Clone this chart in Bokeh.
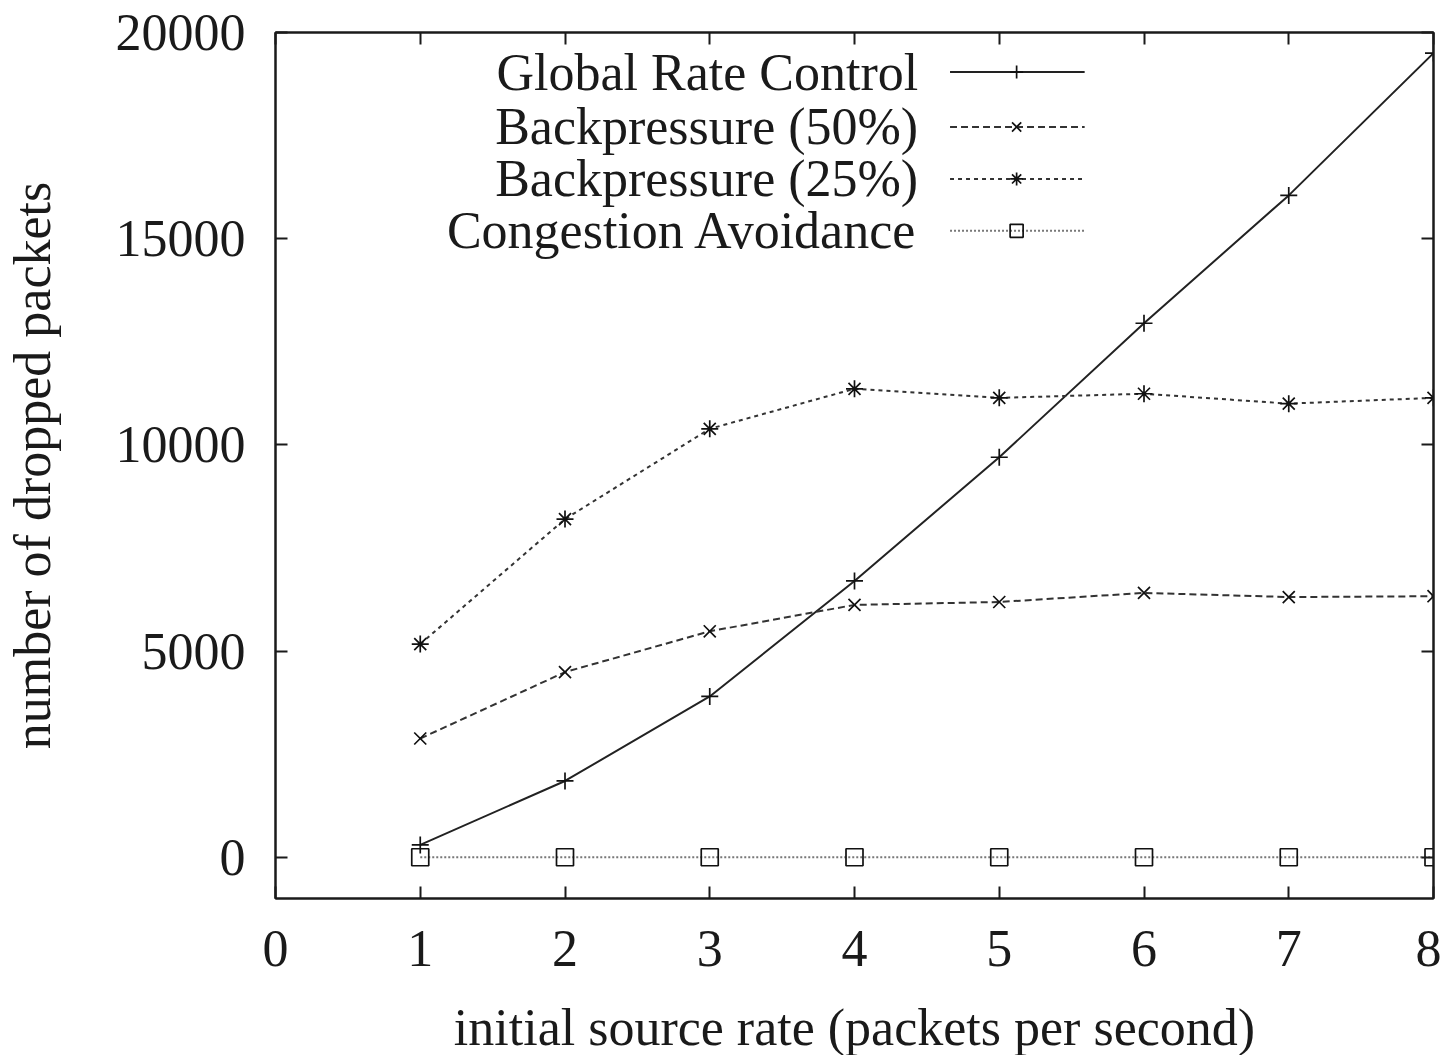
from bokeh.plotting import figure
from bokeh.models import Range1d, FixedTicker, LinearAxis, Label
from bokeh.embed import file_html
from bokeh.resources import INLINE

# ---- data ----
rates = [1, 2, 3, 4, 5, 6, 7, 8]
global_rate_control = [300, 1850, 3900, 6700, 9700, 12950, 16050, 19500]
backpressure_50 = [2880, 4490, 5480, 6120, 6190, 6410, 6310, 6330]
backpressure_25 = [5170, 8200, 10390, 11360, 11140, 11240, 11000, 11140]
congestion_avoidance = [0, 0, 0, 0, 0, 0, 0, 0]

series_names = ["Global Rate Control", "Backpressure (50%)",
                "Backpressure (25%)", "Congestion Avoidance"]
x_ticks = [0, 1, 2, 3, 4, 5, 6, 7, 8]
y_ticks = [0, 5000, 10000, 15000, 20000]

FONT = "Liberation Serif"
INK = "#1a1a1a"
FS = "52px"

p = figure(output_backend="svg", toolbar_location=None,
           x_range=Range1d(0, 8), y_range=Range1d(-1000, 20000),
           min_border_left=274, min_border_right=8, min_border_top=32,
           min_border_bottom=150)
p.frame_width = 1158
p.frame_height = 866
p.background_fill_color = "white"
p.border_fill_color = "white"
p.outline_line_color = INK
p.outline_line_width = 2
p.grid.visible = False

for ax in (p.xaxis[0], p.yaxis[0]):
    ax.major_tick_in = 12
    ax.major_tick_out = 0
    ax.minor_tick_in = 0
    ax.minor_tick_out = 0
    ax.axis_line_color = INK
    ax.axis_line_width = 2
    ax.major_tick_line_color = INK
    ax.major_tick_line_width = 2
    ax.major_label_text_font = FONT
    ax.major_label_text_font_size = FS
    ax.major_label_text_color = INK
    ax.axis_label_text_font = FONT
    ax.axis_label_text_font_size = FS
    ax.axis_label_text_font_style = "normal"
    ax.axis_label_text_color = INK

p.xaxis[0].ticker = FixedTicker(ticks=x_ticks)
p.yaxis[0].ticker = FixedTicker(ticks=y_ticks)
p.xaxis[0].axis_label = "initial source rate (packets per second)"
p.yaxis[0].axis_label = "number of dropped packets"
p.xaxis[0].major_label_standoff = 32
p.yaxis[0].major_label_standoff = 30
p.xaxis[0].axis_label_standoff = 30
p.yaxis[0].axis_label_standoff = 52

# mirrored ticks on top and right (no labels)
def mirror_axis(ticks):
    return LinearAxis(ticker=FixedTicker(ticks=ticks),
                      major_label_overrides={t: "" for t in ticks},
                      major_tick_in=12, major_tick_out=0,
                      minor_tick_in=0, minor_tick_out=0,
                      major_label_standoff=0,
                      axis_line_color=INK, axis_line_width=2,
                      major_tick_line_color=INK, major_tick_line_width=2)

p.add_layout(mirror_axis(x_ticks), "above")
p.add_layout(mirror_axis(y_ticks), "right")

styles = [
    dict(dash="solid", color="#222222", marker="cross"),
    dict(dash="7 4", color="#333333", marker="x"),
    dict(dash="4 4", color="#333333", marker="asterisk"),
    dict(dash="2 2", color="#777777", marker="square"),
]
all_series = [global_rate_control, backpressure_50, backpressure_25, congestion_avoidance]

for ys, st in zip(all_series, styles):
    p.line(rates, ys, line_color=st["color"], line_width=2, line_dash=st["dash"])
    p.scatter(rates, ys, marker=st["marker"], size=17, line_color="#111111",
              fill_color=None, line_width=1.7)

# gnuplot-style key: right-aligned text, sample line to the right
key_text_x = 4.44
key_line_x0, key_line_x1, key_mark_x = 4.66, 5.59, 5.12
key_rows_y = [19040, 17710, 16450, 15190]
for name, st, ky in zip(series_names, styles, key_rows_y):
    p.add_layout(Label(x=key_text_x, y=ky, text=name, text_align="right",
                       text_baseline="middle", text_font=FONT,
                       text_font_size=FS, text_color=INK))
    p.line([key_line_x0, key_line_x1], [ky, ky], line_color=st["color"],
           line_width=2, line_dash=st["dash"])
    p.scatter([key_mark_x], [ky], marker=st["marker"], size=13,
              line_color="#111111", fill_color=None, line_width=1.7)

open("out.html", "w").write(file_html(p, INLINE))
